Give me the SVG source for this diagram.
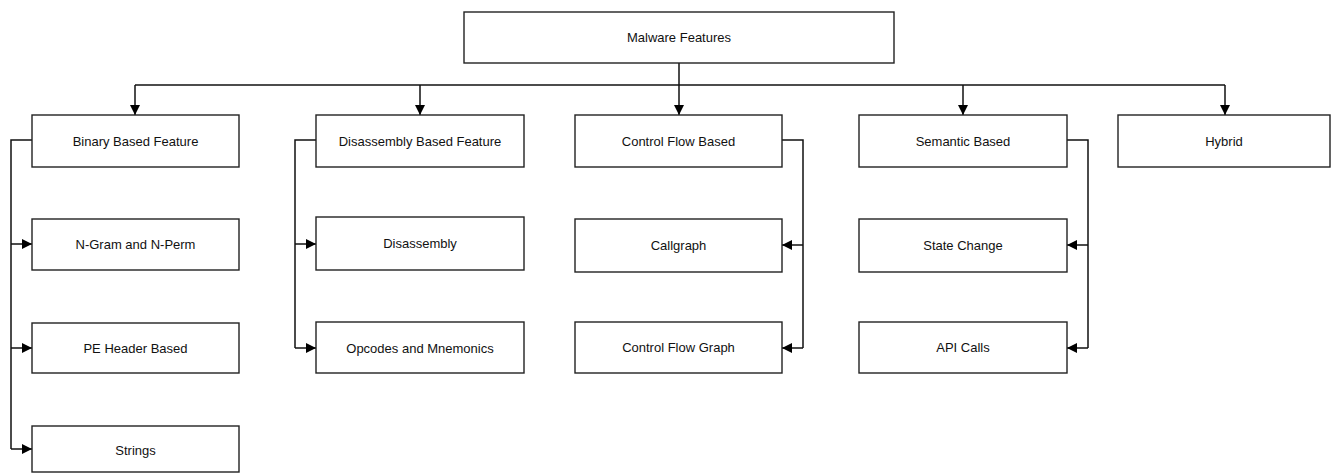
<svg xmlns="http://www.w3.org/2000/svg" width="1331" height="473" viewBox="0 0 1331 473">
<style>
.box{fill:#fff;stroke:#222;stroke-width:1.4}
.lbl{font-family:"Liberation Sans",Arial,sans-serif;font-size:13px;fill:#111;text-anchor:middle;dominant-baseline:central}
.c{fill:none;stroke:#111;stroke-width:1.5}
</style>
<defs>
<marker id="ah" viewBox="0 0 10 10" refX="10" refY="5" markerWidth="10" markerHeight="10" markerUnits="userSpaceOnUse" orient="auto">
<path d="M0,0 L10,5 L0,10 Z" fill="#000"/>
</marker>
</defs>
<rect width="1331" height="473" fill="#fff"/>
<g id="connectors">
<path class="c" d="M679,63 V115" marker-end="url(#ah)"/>
<path class="c" d="M135,85 H1225"/>
<path class="c" d="M135,85 V115" marker-end="url(#ah)"/>
<path class="c" d="M420,85 V115" marker-end="url(#ah)"/>
<path class="c" d="M963,85 V115" marker-end="url(#ah)"/>
<path class="c" d="M1225,85 V115" marker-end="url(#ah)"/>
<path class="c" d="M32,140 H11 V449"/>
<path class="c" d="M11,244 H32" marker-end="url(#ah)"/>
<path class="c" d="M11,348 H32" marker-end="url(#ah)"/>
<path class="c" d="M11,449 H32" marker-end="url(#ah)"/>
<path class="c" d="M316,140 H295 V348"/>
<path class="c" d="M295,244 H316" marker-end="url(#ah)"/>
<path class="c" d="M295,348 H316" marker-end="url(#ah)"/>
<path class="c" d="M782,140 H803 V348"/>
<path class="c" d="M803,245 H782" marker-end="url(#ah)"/>
<path class="c" d="M803,348 H782" marker-end="url(#ah)"/>
<path class="c" d="M1067,140 H1088 V348"/>
<path class="c" d="M1088,245 H1067" marker-end="url(#ah)"/>
<path class="c" d="M1088,348 H1067" marker-end="url(#ah)"/>
</g>
<g id="malware-features"><rect class="box" x="464" y="12" width="430" height="51"/><text class="lbl" x="679" y="37">Malware Features</text></g>
<g id="binary-based"><rect class="box" x="32" y="115" width="207" height="52"/><text class="lbl" x="135.5" y="141">Binary Based Feature</text></g>
<g id="disassembly-based"><rect class="box" x="316" y="115" width="208" height="52"/><text class="lbl" x="420" y="141">Disassembly Based Feature</text></g>
<g id="control-flow-based"><rect class="box" x="575" y="115" width="207" height="52"/><text class="lbl" x="678.5" y="141">Control Flow Based</text></g>
<g id="semantic-based"><rect class="box" x="859" y="115" width="208" height="52"/><text class="lbl" x="963" y="141">Semantic Based</text></g>
<g id="hybrid"><rect class="box" x="1118" y="115" width="212" height="52"/><text class="lbl" x="1224" y="141">Hybrid</text></g>
<g id="ngram"><rect class="box" x="32" y="219" width="207" height="51"/><text class="lbl" x="135.5" y="244">N-Gram and N-Perm</text></g>
<g id="pe-header"><rect class="box" x="32" y="323" width="207" height="50"/><text class="lbl" x="135.5" y="348">PE Header Based</text></g>
<g id="strings"><rect class="box" x="32" y="426" width="207" height="46"/><text class="lbl" x="135.5" y="450">Strings</text></g>
<g id="disassembly"><rect class="box" x="316" y="217" width="208" height="53"/><text class="lbl" x="420" y="243">Disassembly</text></g>
<g id="opcodes"><rect class="box" x="316" y="322" width="208" height="51"/><text class="lbl" x="420" y="348">Opcodes and Mnemonics</text></g>
<g id="callgraph"><rect class="box" x="575" y="219" width="207" height="53"/><text class="lbl" x="678.5" y="245">Callgraph</text></g>
<g id="cfg"><rect class="box" x="575" y="322" width="207" height="51"/><text class="lbl" x="678.5" y="347">Control Flow Graph</text></g>
<g id="state-change"><rect class="box" x="859" y="219" width="208" height="53"/><text class="lbl" x="963" y="245">State Change</text></g>
<g id="api-calls"><rect class="box" x="859" y="322" width="208" height="51"/><text class="lbl" x="963" y="347">API Calls</text></g>
</svg>
